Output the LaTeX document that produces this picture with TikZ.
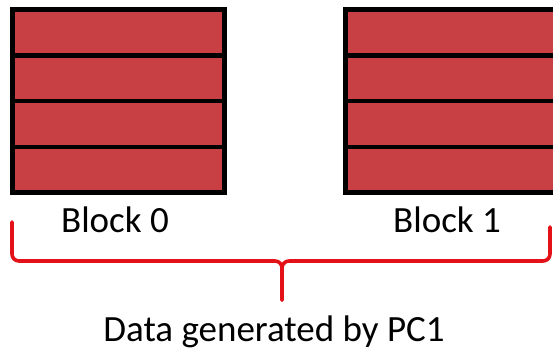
\documentclass[tikz,border=0pt]{standalone}
\usepackage{fontspec}
\setmainfont{Carlito}
\usetikzlibrary{calc}
\definecolor{blockred}{RGB}{201,64,68}
\definecolor{bracered}{RGB}{228,18,24}
\tikzset{
  datablock/.style={rectangle, draw=black, line width=5pt, fill=blockred,
    minimum width=212pt, minimum height=183pt, inner sep=0pt, outer sep=0pt},
  divider/.style={draw=black, line width=4.5pt},
  bracepath/.style={draw=bracered, line width=3.6pt, rounded corners=7pt, line cap=round},
  caption/.style={font=\fontsize{37}{40}\selectfont, anchor=base, inner sep=0pt}
}
\begin{document}
\begin{tikzpicture}[x=1pt, y=-1pt]
  \useasboundingbox (0,0) rectangle (553,351);
  \clip (0,0) rectangle (553,351);

  % two data blocks, each split into four rows
  \node[datablock] (blk0) at (118.5,101) {};
  \node[datablock] (blk1) at (451.5,101) {};
  \foreach \b in {blk0,blk1}
    \foreach \f in {0.25,0.5,0.75}
      \draw[divider] ($(\b.north west)!\f!(\b.south west)$) -- ($(\b.north east)!\f!(\b.south east)$);

  % block labels
  \node[caption] (lab0) at (115,232) {Block 0};
  \node[caption] (lab1) at (447,232) {Block 1};

  % brace gathering both blocks
  \coordinate (bl) at (12,222);
  \coordinate (br) at (550,227);
  \coordinate (bm) at (282,261);
  \coordinate (tip) at (282,300);
  \path[bracepath] (bl) -- (bl |- bm) -- (bm) -- (tip);
  \path[bracepath] (br) -- (br |- bm) -- (bm) -- (tip);

  % caption under the brace
  \node[caption] (cap) at (274,341.5) {Data generated by PC1};
\end{tikzpicture}
\end{document}
